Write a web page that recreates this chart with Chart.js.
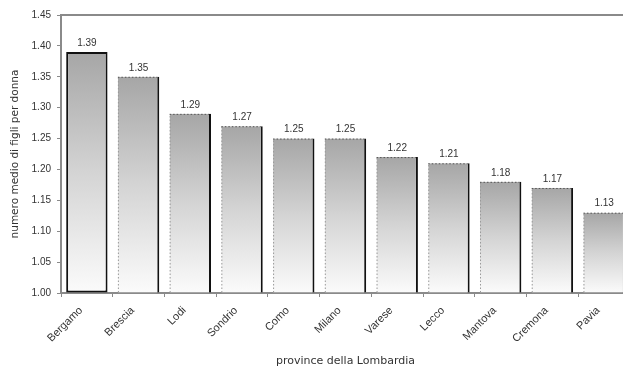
<!DOCTYPE html>
<html>
<head>
<meta charset="utf-8">
<script src="https://cdn.jsdelivr.net/npm/chart.js@4/dist/chart.umd.min.js"></script>
<style>
  html, body { margin: 0; padding: 0; background: #ffffff; }
  #wrap { width: 623px; height: 369px; }
</style>
</head>
<body>
<div id="wrap"><canvas id="c"></canvas></div>
<script>
// Total fertility rate by province of Lombardy
const provinces = ['Bergamo', 'Brescia', 'Lodi', 'Sondrio', 'Como', 'Milano', 'Varese', 'Lecco', 'Mantova', 'Cremona', 'Pavia'];
const figliPerDonna = [1.39, 1.35, 1.29, 1.27, 1.25, 1.25, 1.22, 1.21, 1.18, 1.17, 1.13];
const yTicks = [1.00, 1.05, 1.10, 1.15, 1.20, 1.25, 1.30, 1.35, 1.40, 1.45];

const FONT = 'Liberation Sans, Arial, sans-serif';
const TITLE_FONT = 'DejaVu Sans, Verdana, sans-serif';
const TEXT = '#333333';
const AXIS = '#8a8a8a';
const BASE_VALUE = 1.0;

// Grey-to-white gradient running from the top of each bar down to the baseline
function barFill(ctx) {
  const chart = ctx.chart;
  const y = chart.scales.y;
  if (!y || ctx.raw === undefined) return '#c8c8c8';
  const top = y.getPixelForValue(ctx.raw);
  const bottom = y.getPixelForValue(BASE_VALUE);
  if (!isFinite(top) || !isFinite(bottom) || top === bottom) return '#c8c8c8';
  const g = chart.ctx.createLinearGradient(0, top, 0, bottom);
  g.addColorStop(0, '#a6a6a6');
  g.addColorStop(0.5, '#d4d4d4');
  g.addColorStop(1, '#fbfbfb');
  return g;
}

// The plot runs a few pixels past the right edge of the canvas
const widenPlot = {
  id: 'widenPlot',
  afterLayout(chart) {
    const extra = 7;
    const x = chart.scales.x;
    x.right += extra;
    x.width += extra;
    chart.chartArea.right += extra;
    chart.chartArea.width += extra;
    x.configure();
  }
};

// Dotted top/left edges, value labels and the top frame line
const decorations = {
  id: 'decorations',
  afterDatasetsDraw(chart) {
    const c = chart.ctx;
    const meta = chart.getDatasetMeta(0);
    const area = chart.chartArea;
    c.save();
    c.strokeStyle = AXIS;
    c.lineWidth = 2;
    c.beginPath();
    c.moveTo(area.left, area.top);
    c.lineTo(area.right, area.top);
    c.stroke();

    meta.data.forEach((bar, i) => {
      const left = bar.x - bar.width / 2;
      const right = bar.x + bar.width / 2;
      const top = bar.y;
      const base = Math.min(bar.base, area.bottom);
      if (i > 0) {
        c.setLineDash([1.5, 2]);
        c.lineWidth = 1;
        c.strokeStyle = '#9a9a9a';
        c.beginPath();
        c.moveTo(left + 0.5, base);
        c.lineTo(left + 0.5, top + 0.5);
        c.stroke();
        c.strokeStyle = '#555555';
        c.beginPath();
        c.moveTo(left, top + 0.5);
        c.lineTo(right - 2, top + 0.5);
        c.stroke();
        c.setLineDash([]);
      }
      c.fillStyle = TEXT;
      c.font = '10px ' + FONT;
      c.textAlign = 'center';
      c.textBaseline = 'bottom';
      c.fillText(figliPerDonna[i].toFixed(2), bar.x, top - 4);
    });
    c.restore();
  }
};

new Chart(document.getElementById('c'), {
  type: 'bar',
  data: {
    labels: provinces,
    datasets: [{
      data: figliPerDonna,
      base: BASE_VALUE,
      backgroundColor: barFill,
      borderColor: '#111111',
      borderWidth: (ctx) => ctx.dataIndex === 0
        ? 2
        : { top: 0, left: 0, bottom: 0, right: 2 },
      borderSkipped: false,
      barPercentage: 0.8,
      categoryPercentage: 1.0
    }]
  },
  options: {
    responsive: true,
    maintainAspectRatio: false,
    animation: false,
    layout: { padding: { left: 0, top: 15, right: 0, bottom: 0 } },
    plugins: {
      legend: { display: false },
      tooltip: { enabled: false }
    },
    scales: {
      x: {
        offset: true,
        grid: {
          offset: true,
          drawOnChartArea: false,
          drawTicks: true,
          tickLength: 4,
          color: AXIS
        },
        border: { display: true, color: AXIS, width: 2 },
        ticks: {
          minRotation: 45,
          maxRotation: 45,
          autoSkip: false,
          padding: 7,
          labelOffset: -6,
          color: TEXT,
          font: { family: FONT, size: 11 }
        },
        title: {
          display: true,
          text: 'province della Lombardia',
          color: TEXT,
          font: { family: TITLE_FONT, size: 11 },
          padding: { top: 4, bottom: 1 }
        },
        afterFit(scale) {
          scale.height = 76;
          scale.paddingLeft = 0;
          scale.paddingRight = 0;
        }
      },
      y: {
        min: 1.0,
        max: 1.45,
        afterBuildTicks(scale) {
          scale.ticks = yTicks.map(v => ({ value: v }));
        },
        grid: {
          drawOnChartArea: false,
          drawTicks: true,
          tickLength: 4,
          color: AXIS
        },
        border: { display: true, color: AXIS, width: 2 },
        ticks: {
          padding: 6,
          color: TEXT,
          font: { family: FONT, size: 10 },
          callback: (v) => Number(v).toFixed(2)
        },
        title: {
          display: true,
          text: 'numero medio di figli per donna',
          color: TEXT,
          font: { family: TITLE_FONT, size: 10.5 },
          padding: { top: 9, bottom: 2 }
        },
        afterFit(scale) {
          scale.width = 61;
          scale.paddingTop = 0;
          scale.paddingBottom = 0;
        }
      }
    }
  },
  plugins: [widenPlot, decorations]
});
</script>
</body>
</html>
